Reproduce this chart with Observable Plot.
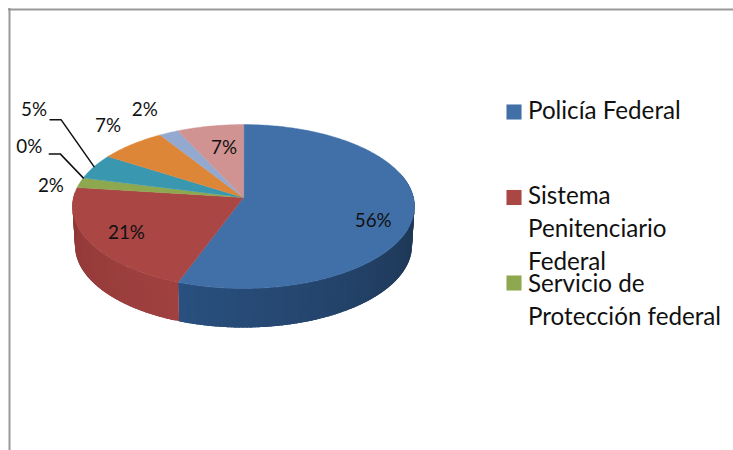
<!DOCTYPE html>
<html><head><meta charset="utf-8">
<script src="https://cdn.jsdelivr.net/npm/d3@7"></script>
<script src="https://cdn.jsdelivr.net/npm/@observablehq/plot@0.6"></script>
<style>html,body{margin:0;padding:0;background:#fff}svg{display:block}</style>
</head><body><div id="c"></div>
<script>
// Data
const shares = [55.6, 21.4, 2, 0, 5, 7, 2, 7];
const topColors = ["#4170a8","#aa4644","#8ea84f","#7a5f9a","#3a97b0","#dd8638","#93a9cf","#d19392"];
const legendLabels = ["Policía Federal","Sistema\nPenitenciario\nFederal","Servicio de\nProtección federal"];
const legendColors = ["#4170a8","#aa4644","#8ea84f"];

// Layout: label offset from the rim mid-point of each slice
const labelDx = [-41, 37, -29, -54, -60, -24, -24, 14];
const labelDy = [9, -9, 3, -31, -57, -18, -23, 22];
const legendTextDy = [-16, -17, -14.5];
const leaderKnee = {3:[-23,-24], 4:[-33,-47]};
const leaderTail = 11;
const apex = {x:243, y:197}, B = 170, A = 81, K = -0.11, depth = 39, bottomScale = 0.985;

function rim(t, bottom=false){            // t = share of the way round, clockwise from 12 o'clock
  const a = t*2*Math.PI, u = Math.sin(a), v = -Math.cos(a), d = 1+K*v;
  const s = bottom ? bottomScale : 1;
  return {x: apex.x + s*B*u/d, y: apex.y + A*v/d + (bottom?depth:0)};
}
const ends = d3.cumsum(shares).map(c=>c/100);
const starts = [0, ...ends.slice(0,-1)];
const mids = ends.map((e,i)=>(e+starts[i])/2);
function arc(a,b,bottom=false){const n=Math.max(2,Math.ceil((b-a)*400));return d3.range(n+1).map(i=>rim(a+(b-a)*i/n,bottom));}

// top surface
const tops = shares.flatMap((s,i)=> s===0 ? [] : [apex,...arc(starts[i],ends[i])].map(p=>({...p,i})));
// side walls, in overlapping strips so they can be shaded along the rim without seams
const wallRuns = [
 {a:0.2, b:ends[0], c0:"#1b3049", c1:"#29507f"},
 {a:ends[0], b:0.76, c0:"#a04140", c1:"#8f3836"}
];
const walls = wallRuns.flatMap((w,k)=>{
  const n=Math.ceil((w.b-w.a)*300), step=(w.b-w.a)/n;
  return d3.range(n).flatMap(j=>{
    const a=w.a+step*j, b=Math.min(w.b, a+step*2.5);
    const fill = d3.interpolateRgb(w.c0,w.c1)((j+.5)/n);
    const id=k+"-"+j;
    return [...arc(a,b),...arc(a,b,true).reverse()].map(p=>({...p,id,fill}));
  });
});

const labels = shares.map((s,i)=>{const p=rim(mids[i]);return {x:p.x+labelDx[i],y:p.y+labelDy[i],t:Math.round(s)+"%"};});
const leaders = Object.entries(leaderKnee).flatMap(([i,[kx,ky]])=>{
  const p=rim(mids[+i]);
  return [p,{x:p.x+kx,y:p.y+ky},{x:p.x+kx-leaderTail,y:p.y+ky}].map(q=>({...q,i}));
});

const legendX = 513.5, legendTextX = 527.5, legendTop = 111.5, legendStep = 85.5;
const legend = legendLabels.map((t,i)=>({t,c:legendColors[i],y:legendTop+i*legendStep,ty:legendTop+i*legendStep+legendTextDy[i]}));

const chart = Plot.plot({
  width:733, height:450, margin:0,
  x:{domain:[0,733],range:[0,733],axis:null},
  y:{domain:[0,450],range:[0,450],axis:null},
  marks:[
    Plot.ruleY([9],{x1:8,x2:733,stroke:"#999",strokeWidth:2}),
    Plot.ruleX([9],{y1:8,y2:450,stroke:"#999",strokeWidth:2}),
    Plot.line(walls,{x:"x",y:"y",z:"id",fill:"fill",stroke:"none",curve:"linear-closed"}),
    Plot.line(tops,{x:"x",y:"y",z:"i",fill:d=>topColors[d.i],stroke:d=>topColors[d.i],strokeWidth:0.4,curve:"linear-closed"}),
    Plot.line(leaders,{x:"x",y:"y",z:"i",stroke:"#111",strokeWidth:1.5}),
    Plot.text(labels,{x:"x",y:"y",text:"t",fontSize:18.8,fontFamily:"Lato",fill:"#111"}),
    Plot.dot(legend,{x:()=>legendX,y:"y",symbol:"square",r:8.5,fill:"c"}),
    Plot.text(legend,{x:()=>legendTextX,y:"ty",text:"t",textAnchor:"start",lineAnchor:"top",lineHeight:1.36,fontSize:24.2,fontFamily:"Lato",fill:"#111"})
  ]
});
document.getElementById("c").append(chart);
</script></body></html>
